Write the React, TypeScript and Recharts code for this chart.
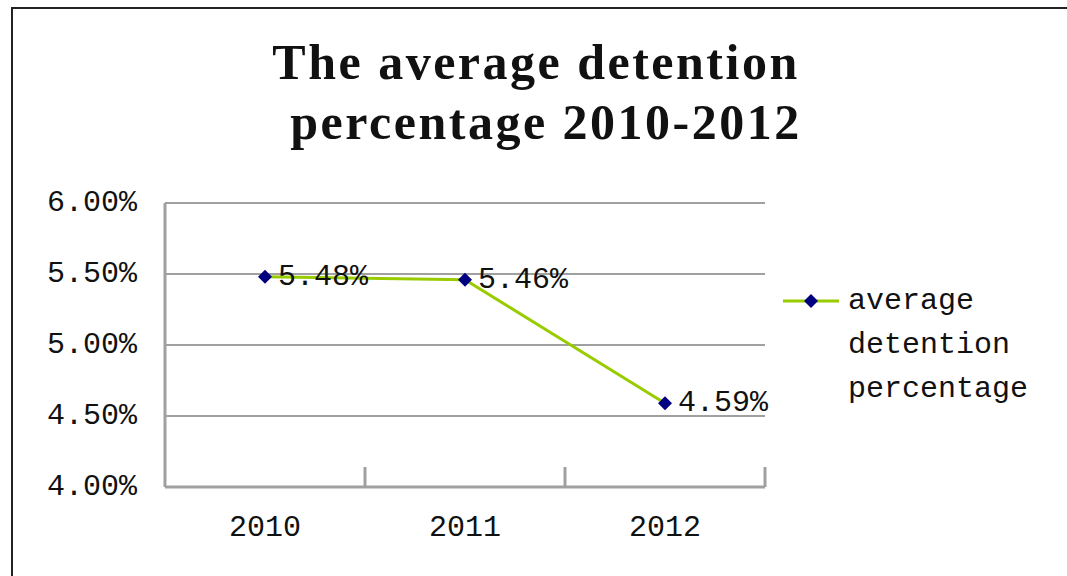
import React from "react";
import { LineChart, Line, XAxis, YAxis, CartesianGrid } from "recharts";

// Average detention percentage, 2010-2012 (values in %)
const YEARS = ["2010", "2011", "2012"];
const DETENTION = [5.48, 5.46, 4.59];
const Y_TICKS = [4.0, 4.5, 5.0, 5.5, 6.0];
const SERIES_NAME = "average detention percentage";

const LINE_COLOR = "#99cc00";
const MARKER_COLOR = "#000080";
const AXIS_COLOR = "#a0a0a0";
const MONO = "'Liberation Mono', 'DejaVu Sans Mono', monospace";

const data = YEARS.map((year, i) => ({ year, value: DETENTION[i] }));

const pct = (v: number) => `${v.toFixed(2)}%`;

function Diamond({ cx, cy }: { cx?: number; cy?: number }) {
  if (cx == null || cy == null) return null;
  const r = 7;
  return <path d={`M${cx},${cy - r}L${cx + r},${cy}L${cx},${cy + r}L${cx - r},${cy}Z`} fill={MARKER_COLOR} />;
}

function PointLabel(p: any) {
  return (
    <text x={p.x + 13} y={p.y} dominantBaseline="central" fontFamily={MONO} fontSize={30} fill="#111">
      {pct(p.value)}
    </text>
  );
}

function YTick({ x, y, payload }: any) {
  return (
    <text x={x} y={y} textAnchor="end" dominantBaseline="central" fontFamily={MONO} fontSize={30} fill="#111">
      {pct(payload.value)}
    </text>
  );
}

// label in the band centre, tick mark on the band's right edge (pointing up)
function XTick({ x, y, payload }: any) {
  const off = payload.offset ?? 0;
  return (
    <g>
      <line x1={x + off} x2={x + off} y1={y} y2={y - 20} stroke={AXIS_COLOR} strokeWidth={3} />
      <text x={x} y={y + 41} textAnchor="middle" dominantBaseline="central" fontFamily={MONO} fontSize={30} fill="#111">
        {payload.value}
      </text>
    </g>
  );
}

function LegendBox() {
  return (
    <div style={{ position: "absolute", left: 783, top: 283, display: "flex", alignItems: "flex-start" }}>
      <svg width={65} height={44} style={{ flex: "none" }}>
        <line x1={0} x2={56} y1={18} y2={18} stroke={LINE_COLOR} strokeWidth={3} />
        <Diamond cx={28} cy={18} />
      </svg>
      <div style={{ fontFamily: MONO, fontSize: 30, lineHeight: "44px", width: 200, color: "#111", marginTop: -4 }}>
        {SERIES_NAME}
      </div>
    </div>
  );
}

export default function App() {
  return (
    <div style={{ position: "fixed", left: 0, top: 0, width: 1067, height: 576, overflow: "hidden", background: "#fff" }}>
      <div
        style={{
          position: "absolute", left: 11, top: 7, width: 1100, height: 620,
          border: "2px solid #222", boxSizing: "border-box",
        }}
      />
      <div
        style={{
          position: "absolute", left: 0, top: 32, width: 1072, textAlign: "center",
          fontFamily: "'Liberation Serif', serif", fontWeight: 700, fontSize: 50, lineHeight: "60px",
          letterSpacing: 2.5, color: "#111",
        }}
      >
        <div>The average detention</div>
        <div style={{ paddingLeft: 20 }}>percentage 2010-2012</div>
      </div>
      <div style={{ position: "absolute", left: 0, top: 0 }}>
        <LineChart width={1067} height={576} data={data} margin={{ top: 203, right: 302, bottom: 0, left: 15 }}>
          <CartesianGrid vertical={false} stroke={AXIS_COLOR} strokeWidth={2} />
          <XAxis
            dataKey="year"
            scale="band"
            height={89}
            axisLine={{ stroke: AXIS_COLOR, strokeWidth: 3 }}
            tickLine={false}
            tickSize={0}
            tickMargin={0}
            tick={<XTick />}
            interval={0}
          />
          <YAxis
            type="number"
            domain={[4, 6]}
            ticks={Y_TICKS}
            width={150}
            axisLine={{ stroke: AXIS_COLOR, strokeWidth: 3 }}
            tickLine={false}
            tickSize={0}
            tickMargin={28}
            tick={<YTick />}
            interval={0}
          />
          <Line
            dataKey="value"
            name={SERIES_NAME}
            stroke={LINE_COLOR}
            strokeWidth={3}
            dot={<Diamond />}
            activeDot={false}
            label={<PointLabel />}
            isAnimationActive={false}
          />
        </LineChart>
      </div>
      <LegendBox />
    </div>
  );
}
